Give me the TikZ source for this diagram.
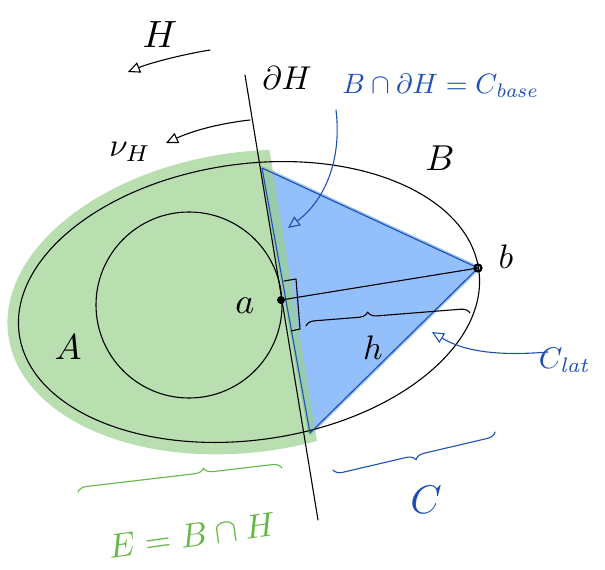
\documentclass[tikz,border=0pt]{standalone}
\usetikzlibrary{arrows.meta,decorations.pathreplacing}
\definecolor{hblue}{RGB}{30,80,180}
\definecolor{fillblue}{RGB}{147,191,250}
\definecolor{fillgreen}{RGB}{155,209,142}
\definecolor{hgreen}{RGB}{100,185,70}
\tikzset{
  ink/.style={line width=1.1pt, line cap=round, line join=round},
  openarrow/.style={ink, -{Triangle[open, length=12pt, width=11pt]}},
  lbl/.style={inner sep=0pt},
  bracestyle/.style={ink, decorate, decoration={brace, amplitude=9pt, raise=0pt}},
}
\begin{document}
\begin{tikzpicture}[x=1pt,y=-1pt]
\useasboundingbox (0,0) rectangle (605,570);

% key points
\coordinate (T) at (262,168);
\coordinate (Bt) at (310,433);
\coordinate (pb) at (478,268);
\coordinate (pa) at (281,300);

% blue triangle fill
\fill[fillblue, draw=fillblue, line width=4pt, line join=round] (T) -- (pb) -- (Bt) -- cycle;

% green blob: enlarged ellipse, left of the plane
\begin{scope}
  \clip (0,0) -- (245,0) -- (338,570) -- (0,570) -- cycle;
  \fill[fillgreen, opacity=0.7, rotate around={8:(249,302)}] (249,302) ellipse [x radius=243, y radius=150];
\end{scope}

% big ellipse B and circle A
\draw[ink, rotate around={8:(249,302)}] (249,302) ellipse [x radius=232, y radius=138];
\draw[ink] (189,305) circle [radius=93];

% plane boundary
\coordinate (dHtop) at (245,75);
\coordinate (dHbot) at (318,520);
\draw[ink] (dHtop) -- (dHbot);

% triangle edges
\draw[hblue, line width=1.1pt, line join=round] (T) -- (pb) -- (Bt) -- cycle;

% segment a-b and right angle mark
\draw[ink] (pa) -- (pb);
\draw[ink] (284,281) -- (296,279) -- (300,329) -- (291,331);
\fill (pa) circle [radius=4];
\draw[line width=2.2pt] (pb) circle [radius=3.5];

% labels
\node[lbl, scale=3.8] (Hlab) at (160,35) {$H$};
\coordinate (Hs) at (210,50);
\coordinate (He) at (128,72);
\draw[openarrow] (Hs) .. controls (180,55) and (150,63) .. (He);

\node[lbl, scale=3.3] (dHlab) at (287,78) {$\partial H$};

\node[lbl, scale=3.3] (nulab) at (130,152) {$\nu_H$};
\coordinate (nus) at (250,120);
\coordinate (nue) at (166,143);
\draw[openarrow] (nus) .. controls (215,124) and (190,132) .. (nue);

\node[lbl, scale=2.8, text=hblue] (cbase) at (441,86) {$B\cap\partial H = C_{\mathit{base}}$};
\coordinate (cbs) at (336,110);
\coordinate (cbe) at (288,228);
\draw[openarrow, hblue] (cbs) .. controls (342,160) and (325,200) .. (cbe);

\node[lbl, scale=3.6] (Blab) at (440,158) {$B$};
\node[lbl, scale=3.4] (blab) at (506,257) {$b$};
\node[lbl, scale=3.6] (alab) at (245,306) {$a$};
\node[lbl, scale=3.6] (Alab) at (68,347) {$A$};
\node[lbl, scale=3.4] (hlab) at (373,348) {$h$};

\node[lbl, scale=3, text=hblue] (clat) at (565,360) {$C_{\mathit{lat}}$};
\coordinate (cls) at (548,352);
\coordinate (cle) at (432,332);
\draw[openarrow, hblue] (cls) .. controls (500,356) and (465,352) .. (cle);

% braces
\coordinate (hb1) at (306,326);
\coordinate (hb2) at (470,313);
\draw[bracestyle, decoration={aspect=0.38}] (hb1) -- (hb2);

\coordinate (gb1) at (78,492);
\coordinate (gb2) at (282,468);
\draw[bracestyle, hgreen, decoration={aspect=0.62}] (gb1) -- (gb2);

\coordinate (cb1) at (495,432);
\coordinate (cb2) at (333,470);
\draw[bracestyle, hblue, decoration={aspect=0.5}] (cb1) -- (cb2);

\node[lbl, scale=4, text=hblue] (Clab) at (426,500) {$C$};
\node[lbl, text=hgreen, rotate=8, scale=3.4] (Elab) at (192,535) {$E = B\cap H$};
\end{tikzpicture}
\end{document}
